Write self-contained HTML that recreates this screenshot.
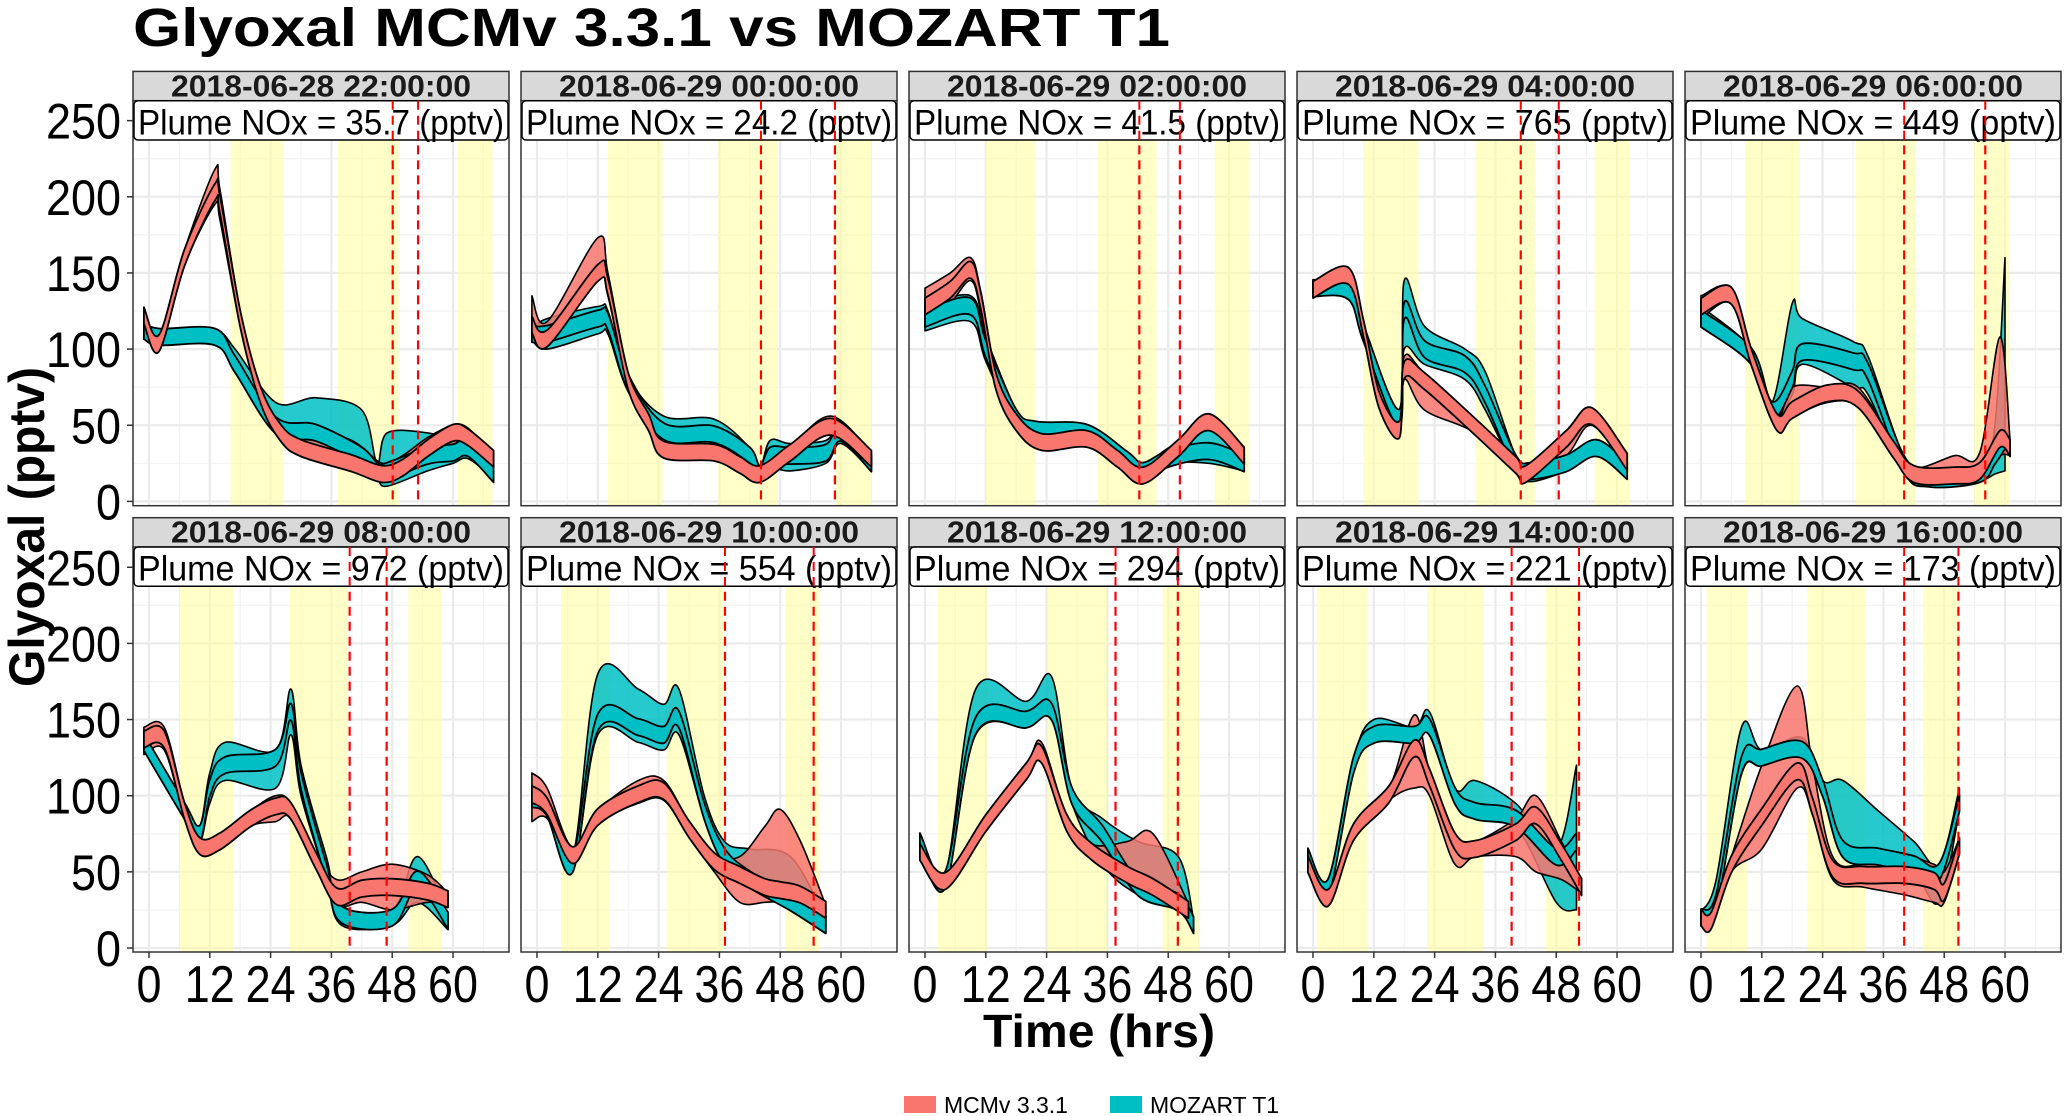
<!DOCTYPE html>
<html><head><meta charset="utf-8">
<style>
html,body{margin:0;padding:0;background:#fff;}
svg{display:block;font-family:"Liberation Sans",sans-serif;}
</style></head>
<body>
<svg id="chart" width="2067" height="1116" viewBox="0 0 2067 1116" xmlns="http://www.w3.org/2000/svg">
<text x="133" y="46" font-size="54" font-weight="bold" textLength="1037" lengthAdjust="spacingAndGlyphs">Glyoxal MCMv 3.3.1 vs MOZART T1</text>
<text transform="translate(44,527) rotate(-90)" text-anchor="middle" font-size="50" font-weight="bold" textLength="320" lengthAdjust="spacingAndGlyphs">Glyoxal (pptv)</text>
<text x="1099" y="1047" text-anchor="middle" font-size="46" font-weight="bold" textLength="232" lengthAdjust="spacingAndGlyphs">Time (hrs)</text>
<g>
<rect x="904" y="1096" width="32" height="17" fill="#F8766D"/>
<text x="944" y="1113" font-size="23">MCMv 3.3.1</text>
<rect x="1110" y="1096" width="32" height="17" fill="#00BFC4"/>
<text x="1150" y="1113" font-size="23">MOZART T1</text>
</g>
<g id="panels"></g>
</svg>
<script>
const panelTitles=["2018-06-28 22:00:00","2018-06-29 00:00:00","2018-06-29 02:00:00","2018-06-29 04:00:00","2018-06-29 06:00:00","2018-06-29 08:00:00","2018-06-29 10:00:00","2018-06-29 12:00:00","2018-06-29 14:00:00","2018-06-29 16:00:00"];
const noxValues=["35.7","24.2","41.5","765","449","972","554","294","221","173"];
const xTicks=[0,12,24,36,48,60];
const yTicks=[0,50,100,150,200,250];
const shadeRanges=[[[16.1,26.5],[37.3,49.3],[60.9,67.8]],[[14,24.8],[35.7,47.5],[59,66]],[[11.9,21.9],[34.1,45.7],[57.2,63.9]],[[9.9,20.8],[32.1,43.8],[55.6,62.4]],[[8.7,19.5],[30.6,42.4],[53.9,60.8]],[[6.1,16.6],[27.7,39.3],[51.2,57.8]],[[4.7,14.3],[25.6,36.7],[49,55.7]],[[2.5,12.3],[24.1,35.9],[46.9,54.1]],[[0.8,10.9],[22.5,33.6],[46,52.6]],[[1.1,9.1],[21,32.4],[43.8,51]]];
const dashTimes=[[48.1,53.1],[44.2,58.8],[42.3,50.3],[41,48.5],[40.1,56.1],[39.6,46.9],[37.1,54.6],[37.6,49.9],[39.2,52.5],[40.1,50.8]];

const redT=[[-1,2,7,13,14,18,22,26,30,40,46,50,55,60,63,68],[-1,2,12,14,18,22,25,35,40,44,50,58,66],[0,5,9,11,14,18,23,32,38,43,50,56,63],[0,7,10,13,17,18,22,32,40,42,50,55,62],[0,6,10,15,18,25,31,38,42,50,55,59,61],[-1,3,7,10,14,20,25,28,33,37,42,48,55,59],[-1,2,7,12,20,25,30,35,40,45,48,52,57],[-1,4,12,20,23,28,33,40,45,52],[-1,3,8,15,20,23,28,32,40,44,49,53],[0,2,6,12,19,22,26,32,40,46,48,51]];
const redMid=[[122,104,160,203,195,120,70,45,35,25,18,22,35,45,42,28],[116,107,150,141,79,52,34,32,24,18,32,49,28],[128,139,152,132,79,52,39,41,28,17,35,52,30],[139,148,113,67,47,86,79,49,24,18,41,56,26],[128,135,94,52,60,71,67,34,18,17,20,41,35],[137,137,90,67,70,85,93,90,57,34,39,40,37,32],[101,93,61,86,101,103,78,57,48,40,38,35,25],[63,44,82,116,127,82,63,48,40,25],[55,33,76,101,131,112,70,65,76,87,63,40],[20,18,55,86,116,93,52,48,48,44,37,67]];
const redLo=[[118,100,155,195,185,115,65,40,32,22,14,18,25,32,35,25],[112,103,145,135,75,48,30,28,20,14,28,45,24],[115,130,145,125,75,48,35,37,24,13,30,47,26],[135,144,108,62,43,80,60,45,20,14,30,50,22],[120,130,90,48,55,65,62,30,14,13,16,30,30],[127,130,85,62,65,80,83,85,52,28,30,25,30,28],[83,85,56,82,95,97,73,50,30,30,30,25,20],[58,40,78,112,122,78,58,44,36,21],[51,29,72,97,105,100,55,60,60,50,45,36],[16,14,50,65,105,88,45,40,35,30,30,62]];
const redHi=[[126,108,165,218,205,125,75,50,50,40,25,30,42,50,48,30],[135,118,173,150,84,56,38,36,28,22,36,56,32],[140,150,160,138,84,56,43,45,32,21,40,57,34],[143,152,118,72,51,95,84,54,28,22,46,60,30],[135,140,98,56,75,75,75,38,22,30,32,108,40],[145,145,95,72,75,90,100,95,62,45,50,55,48,36],[115,105,66,90,110,110,83,62,60,80,91,70,28],[68,48,86,120,135,86,68,70,75,29],[59,37,80,105,153,116,74,70,85,100,70,44],[24,22,60,120,172,120,60,55,60,55,50,72]];

const tealT=[[-1,2,13,17,25,33,42,45,47,55,60,63,68],[-1,2,12,14,18,25,35,42,44,46,50,57,60,66],[0,9,12,18,22,32,40,43,48,56,63],[0,7,10,17,18,22,30,34,40,43,50,56,62],[0,10,14,18,20,30,33,40,45,55,58,60],[-1,7,10,12,15,25,28,30,35,38,48,53,59],[-1,2,7,12,20,25,28,33,37,42,50,57],[-1,4,10,20,25,29,35,42,50,53],[-1,3,8,12,20,23,28,32,40,48,52],[0,3,8,12,20,24,28,35,42,47,51]];
const tealMid=[[112,108,108,90,50,45,30,20,20,30,32,35,18],[110,110,120,118,78,46,44,30,18,30,30,32,45,25],[120,128,100,55,47,45,27,20,28,33,25],[140,138,110,55,125,100,90,70,25,20,25,35,20],[120,95,60,80,98,92,85,25,15,18,30,40],[135,90,75,105,120,125,155,110,50,22,20,45,18],[98,92,55,148,145,140,150,90,60,45,30,15],[70,45,146,150,155,100,75,40,30,15],[60,40,120,140,140,145,100,90,85,60,70],[20,30,120,125,130,105,65,60,55,50,95]];
const tealLo=[[108,104,104,85,45,35,25,15,10,20,25,28,15],[106,100,110,110,72,41,34,25,14,22,20,25,38,20],[112,118,92,50,42,40,22,15,25,25,20],[136,134,105,50,100,90,80,60,20,13,20,30,16],[115,90,55,70,90,75,70,20,12,14,18,20],[130,85,70,95,110,105,140,100,45,15,15,30,12],[94,88,50,140,135,130,140,85,55,40,25,10],[66,41,140,145,150,95,55,35,25,11],[56,36,116,136,136,141,96,85,80,30,25],[16,26,114,120,125,100,60,55,50,30,90]];
const tealHi=[[115,112,112,100,65,68,60,25,45,45,40,40,22],[114,120,128,125,82,56,54,35,22,40,38,40,50,30],[128,135,108,60,50,50,32,24,35,50,30],[144,142,115,60,145,115,100,85,30,25,30,40,24],[128,100,65,130,120,105,95,30,20,22,50,160],[140,95,80,115,135,130,170,120,60,28,25,60,22],[102,96,60,180,170,160,170,100,70,65,60,20],[74,49,170,162,178,105,85,70,60,19],[64,44,124,150,145,155,105,110,95,65,120],[24,45,145,130,138,110,110,90,70,55,105]];

const NS="http://www.w3.org/2000/svg";
const root=document.getElementById('panels');
function mk(tag,attrs,parent){const e=document.createElementNS(NS,tag);for(const k in attrs)e.setAttribute(k,attrs[k]);(parent||root).appendChild(e);return e;}
function spline(pts){
  let d="";
  for(let i=0;i<pts.length;i++){
    const p=pts[i];
    if(i===0){d+="M"+p[0].toFixed(1)+","+p[1].toFixed(1);continue;}
    const p0=pts[i-2]||pts[i-1],p1=pts[i-1],p3=pts[i+1]||p;
    const c1=[p1[0]+(p[0]-p0[0])/6,p1[1]+(p[1]-p0[1])/6];
    const c2=[p[0]-(p3[0]-p1[0])/6,p[1]-(p3[1]-p1[1])/6];
    d+="C"+c1[0].toFixed(1)+","+c1[1].toFixed(1)+" "+c2[0].toFixed(1)+","+c2[1].toFixed(1)+" "+p[0].toFixed(1)+","+p[1].toFixed(1);
  }
  return d;
}
function ribbonPath(ts,lo,hi,xs,ys){
  const top=ts.map((t,i)=>[xs(t),ys(hi[i])]);
  const bot=ts.map((t,i)=>[xs(t),ys(lo[i])]).reverse();
  return spline(top)+spline(bot).replace(/^M/,"L")+"Z";
}
const PW=376,GAP=12,LEFT=133;
const rowInfo=[{stripTop:71.4,zero:501.4,bottom:505.7},{stripTop:517.7,zero:948,bottom:952}];
for(let p=0;p<10;p++){
  const row=Math.floor(p/5),col=p%5;
  const ri=rowInfo[row];
  const x0=LEFT+col*(PW+GAP);
  const xs=t=>x0+16+5.067*t;
  const ys=v=>ri.zero-1.523*v;
  const g=mk('g',{});
  
  
  const labelBottom=ri.stripTop+68.6;
  const plotTop=labelBottom;
  const cid='clip'+p;
  const cp=mk('clipPath',{id:cid},g);
  mk('rect',{x:x0,y:plotTop,width:PW,height:ri.bottom-plotTop},cp);
  const bg=mk('rect',{x:x0,y:plotTop,width:PW,height:ri.bottom-plotTop,fill:'#fff'},g);
  
  
  const inner=mk('g',{'clip-path':'url(#'+cid+')'},g);
  for(let v=25;v<=275;v+=50){mk('line',{x1:x0,x2:x0+PW,y1:ys(v),y2:ys(v),stroke:'#f2f2f2','stroke-width':1.2},inner);}
  for(let t=-6;t<=72;t+=12){mk('line',{x1:xs(t),x2:xs(t),y1:plotTop,y2:ri.bottom,stroke:'#f2f2f2','stroke-width':1.2},inner);}
  for(const v of yTicks){mk('line',{x1:x0,x2:x0+PW,y1:ys(v),y2:ys(v),stroke:'#ebebeb','stroke-width':2.2},inner);}
  for(const t of xTicks){mk('line',{x1:xs(t),x2:xs(t),y1:plotTop,y2:ri.bottom,stroke:'#ebebeb','stroke-width':2.2},inner);}
  for(const s of shadeRanges[p]){
    const r=mk('rect',{x:xs(s[0]),y:plotTop,width:xs(s[1])-xs(s[0]),height:ri.bottom-plotTop,fill:'#ffff99','fill-opacity':0.55},inner);
    
    
  }
  const series=[
    {name:'mozart',col:'#00BFC4',T:tealT[p],M:tealMid[p],L:tealLo[p],H:tealHi[p]},
    {name:'mcm',col:'#F8766D',T:redT[p],M:redMid[p],L:redLo[p],H:redHi[p]}];
  for(const s of series){
    const e=mk('path',{d:ribbonPath(s.T,s.L,s.H,xs,ys),fill:s.col,'fill-opacity':0.85,stroke:'#000','stroke-width':1.6,'stroke-linejoin':'round'},inner);
    
    
  }
  for(const s of series){
    const lo=s.M.map(v=>v-5.5),hi=s.M.map(v=>v+5.5);
    const e=mk('path',{d:ribbonPath(s.T,lo,hi,xs,ys),fill:s.col,stroke:'#000','stroke-width':1.8,'stroke-linejoin':'round'},inner);
    
    
  }
  for(const t of dashTimes[p]){
    const l=mk('line',{x1:xs(t),x2:xs(t),y1:ri.stripTop+29,y2:ri.bottom,stroke:'#ff0000','stroke-width':2.2,'stroke-dasharray':'9,6'},g);
    
    
  }
  const br=mk('rect',{x:x0,y:ri.stripTop+29,width:PW,height:ri.bottom-ri.stripTop-29,fill:'none',stroke:'#333','stroke-width':1.5},g);
  
  
  const st=mk('rect',{x:x0,y:ri.stripTop,width:PW,height:29.3,fill:'#d9d9d9',stroke:'#333','stroke-width':1.5},g);
  
  
  const stt=mk('text',{x:x0+PW/2,y:ri.stripTop+25,'text-anchor':'middle','font-size':31,'font-weight':'bold',fill:'#1a1a1a',textLength:300,lengthAdjust:'spacingAndGlyphs'},g);
  stt.textContent=panelTitles[p];
  
  
  const lb=mk('rect',{x:x0+1,y:ri.stripTop+29.3,width:PW-2,height:39.3,rx:4,fill:'#fff','fill-opacity':0.92,stroke:'#000','stroke-width':1.5},g);
  
  
  const lt=mk('text',{x:x0+PW/2,y:ri.stripTop+63,'text-anchor':'middle','font-size':35,textLength:PW-10,lengthAdjust:'spacingAndGlyphs'},g);
  lt.textContent='Plume NOx = '+noxValues[p]+' (pptv)';
  
  
  for(const t of dashTimes[p]){
    mk('line',{x1:xs(t),x2:xs(t),y1:ri.stripTop+29.3,y2:labelBottom,stroke:'#ff0000','stroke-width':2,'stroke-dasharray':'9,6'},g);
  }
  if(col===0){
    for(const v of yTicks){
      mk('line',{x1:x0-6,x2:x0,y1:ys(v),y2:ys(v),stroke:'#333','stroke-width':1.5},g);
      const s=String(v);
      const tt=mk('text',{x:x0-12,y:ys(v)+18,'text-anchor':'end','font-size':50,textLength:s.length*25,lengthAdjust:'spacingAndGlyphs'},g);
      tt.textContent=s;
      
      
    }
  }
  if(row===1){
    for(const t of xTicks){
      mk('line',{x1:xs(t),x2:xs(t),y1:ri.bottom,y2:ri.bottom+6,stroke:'#333','stroke-width':1.5},g);
      const s=String(t);
      const tt=mk('text',{x:xs(t),y:ri.bottom+50,'text-anchor':'middle','font-size':52,textLength:s.length*25,lengthAdjust:'spacingAndGlyphs'},g);
      tt.textContent=s;
      
      
    }
  }
}
</script>
</body></html>
